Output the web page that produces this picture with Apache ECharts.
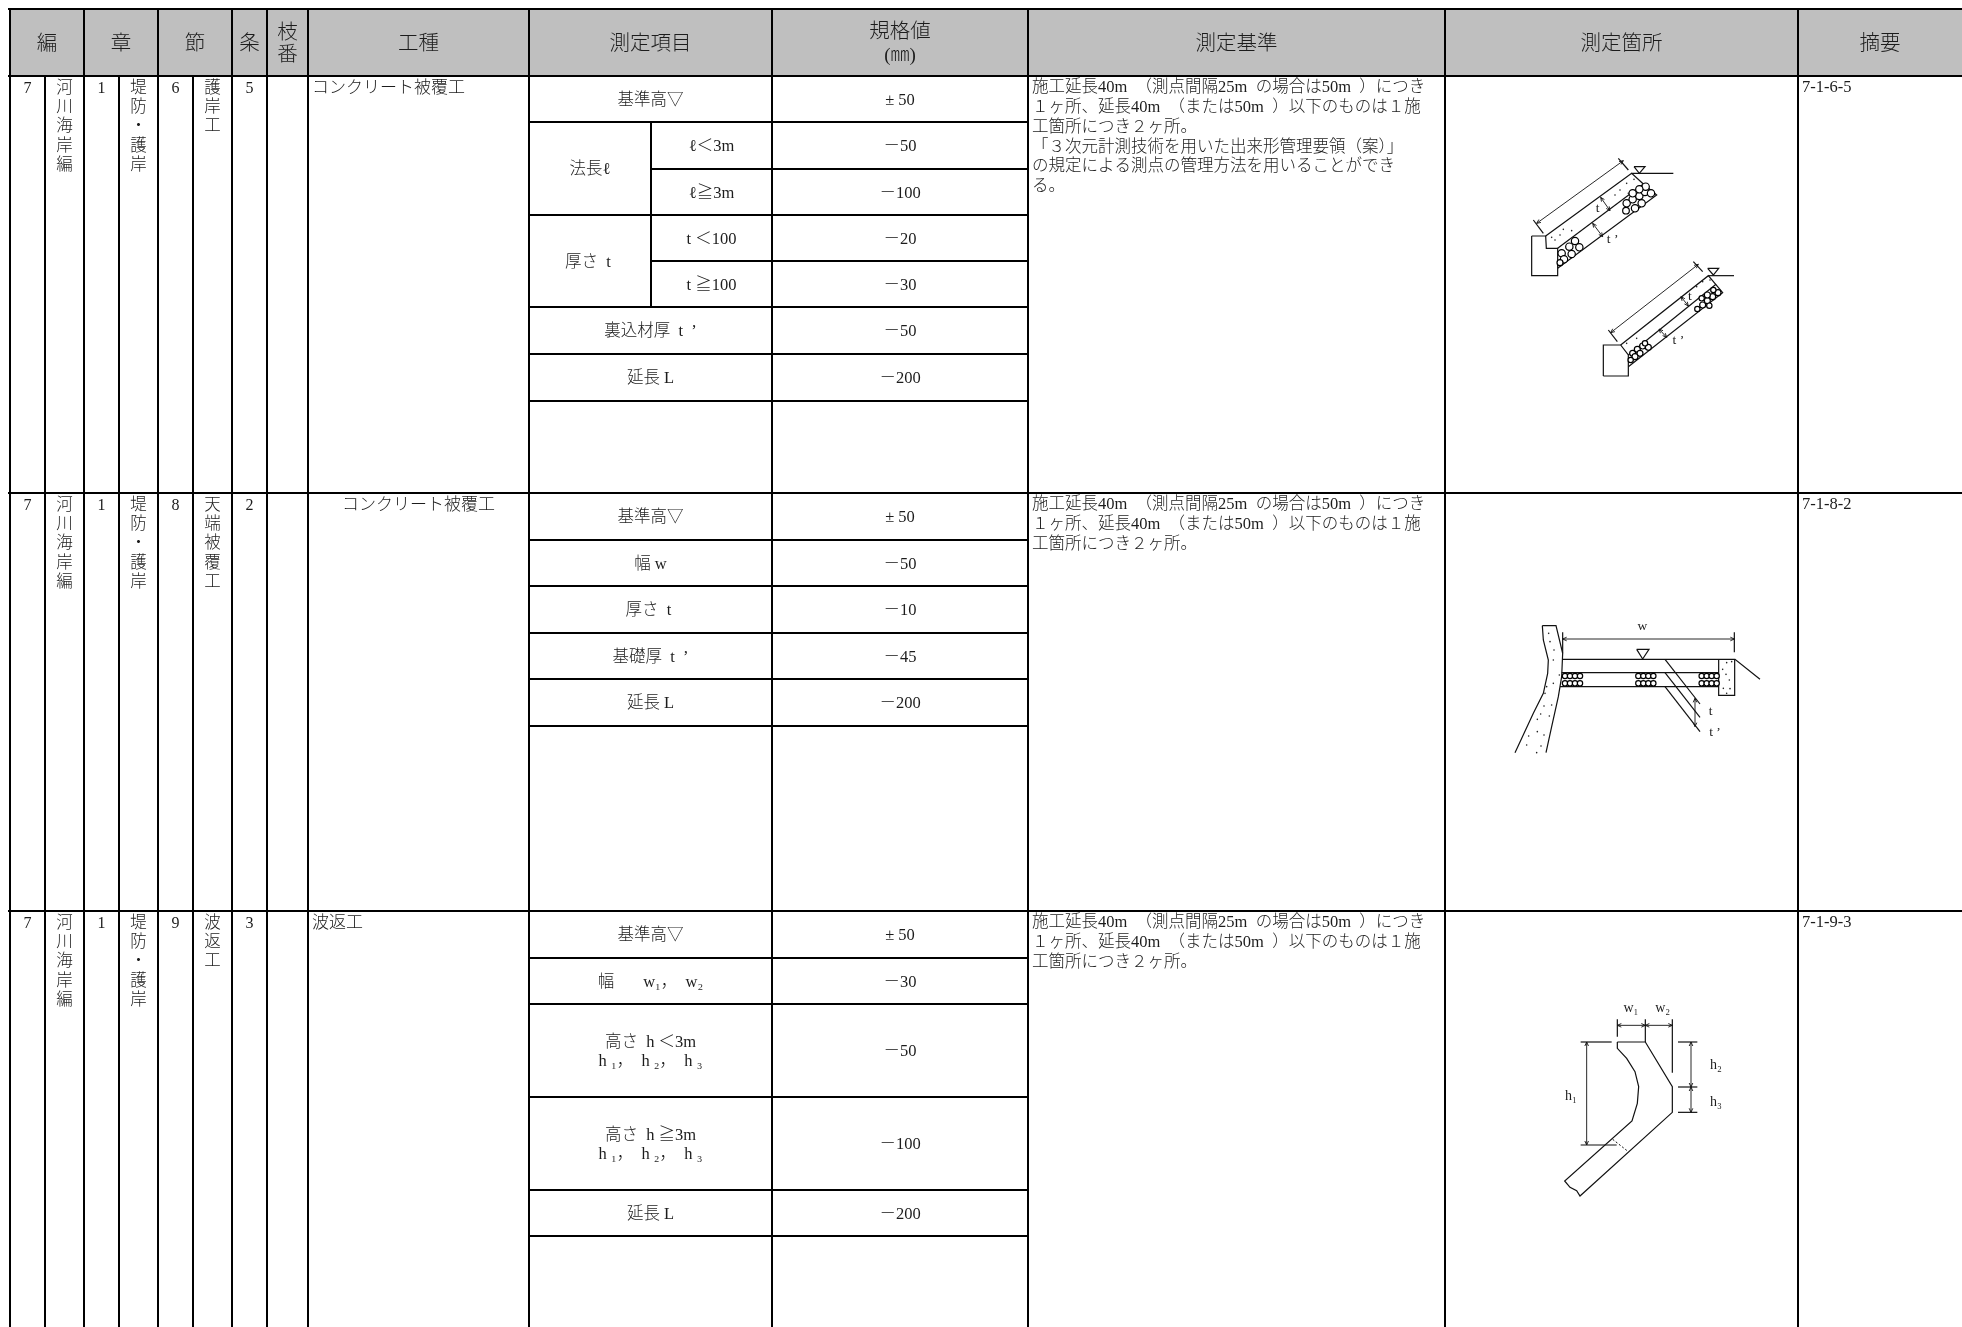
<!DOCTYPE html>
<html>
<head>
<meta charset="utf-8">
<title>出来形管理基準</title>
<style>
  html,body{margin:0;padding:0;background:#fff;}
  #main{width:1962px;height:1327px;}
</style>
<script src="https://cdn.jsdelivr.net/npm/echarts@6/dist/echarts.min.js"></script>
</head>
<body>
<div id="main"></div>
<script>
// table text
var headerLabels = ['編','章','節','条','枝\n番','工種','測定項目','規格値','測定基準','測定箇所','摘要'];
var henNo = ['7','7','7'];
var henName = ['河\n川\n海\n岸\n編','河\n川\n海\n岸\n編','河\n川\n海\n岸\n編'];
var shoNo = ['1','1','1'];
var shoName = ['堤\n防\n・\n護\n岸','堤\n防\n・\n護\n岸','堤\n防\n・\n護\n岸'];
var setsuNo = ['6','8','9'];
var setsuName = ['護\n岸\n工','天\n端\n被\n覆\n工','波\n返\n工'];
var joNo = ['5','2','3'];
var koshu = ['コンクリート被覆工','コンクリート被覆工','波返工'];
var itemsA = ['基準高▽','裏込材厚  t  ’','延長 L'];
var subGroupA = ['法長ℓ','厚さ  t '];
var subItemsA = ['ℓ＜3m','ℓ≧3m','t ＜100','t ≧100'];
var itemsB = ['基準高▽','幅 w','厚さ  t ','基礎厚  t  ’','延長 L'];
var itemsC = ['基準高▽','幅　   w₁，  w₂','高さ  h ＜3m\nh ₁，  h ₂，  h ₃','高さ  h ≧3m\nh ₁，  h ₂，  h ₃','延長 L'];
var valuesA = ['± 50','－50','－100','－20','－30','－50','－200'];
var valuesB = ['± 50','－50','－10','－45','－200'];
var valuesC = ['± 50','－30','－50','－100','－200'];
var criteriaA = '施工延長40m\u2002（測点間隔25m\u2002の場合は50m\u2002）につき\n１ヶ所、延長40m\u2002（または50m\u2002）以下のものは１施\n工箇所につき２ヶ所。\n「３次元計測技術を用いた出来形管理要領（案）」\nの規定による測点の管理方法を用いることができ\nる。';
var criteriaB = '施工延長40m\u2002（測点間隔25m\u2002の場合は50m\u2002）につき\n１ヶ所、延長40m\u2002（または50m\u2002）以下のものは１施\n工箇所につき２ヶ所。';
var remarks = ['7-1-6-5','7-1-8-2','7-1-9-3'];

// layout of the table, in page pixels
var colX = [10,45,84,119,158,193,232,267,308,529,772,1028,1445,1798];
var subColX = 651;
var headTop = 9, headBottom = 76;
var sectionTop = [76,493,911];
var rowsA = [122,215,307,354,401];
var subRowsA = [169,261];
var rowsB = [540,586,633,679,726];
var rowsC = [958,1004,1097,1190,1236];
var pageW = 1962, pageH = 1327;

var SERIF = '"Liberation Serif","Noto Sans CJK JP"';
var INK = '#1c1c1c';
var DY = 1.5; // text sits a little under the cell centre

// segments of the table rules [x0,y0,x1,y1]
var rules = [];
[headTop,headBottom,sectionTop[1],sectionTop[2]].forEach(function(y){ rules.push([colX[0]-1,y,pageW,y]); });
colX.forEach(function(x,i){
  var sub = (i==1||i==3||i==5);
  rules.push([x,sub?headBottom:headTop,x,pageH]);
});
rules.push([subColX,rowsA[0],subColX,rowsA[2]]);
rowsA.concat(rowsB,rowsC).forEach(function(y){ rules.push([colX[9],y,colX[11],y]); });
subRowsA.forEach(function(y){ rules.push([subColX,y,colX[11],y]); });

// texts [x,y,text,align,size,verticalAlign,lineHeight]
var texts = [];
function T(x,y,s,align,size,va,lh,family){ texts.push({x:x,y:y,s:s,align:align,size:size,va:va,lh:lh,family:family||SERIF}); }
function mid(a,b){ return (a+b)/2; }

var headCols = [[0,2],[2,4],[4,6],[6,7],[7,8],[8,9],[9,10],[10,11],[11,12],[12,13]];
headerLabels.forEach(function(h,i){
  var l = i<10 ? colX[headCols[i][0]] : colX[13];
  var r = i<10 ? colX[headCols[i][1]] : pageW;
  var cy = (i==7) ? 33 : 44.5;
  T(mid(l,r),cy,h,'center',20.5,'middle',22.5);
});
T(mid(colX[10],colX[11]),56,'(㎜)','center',19,'middle',18);

sectionTop.forEach(function(top,i){
  var y = top+2.5;
  T(mid(colX[0],colX[1]),y,henNo[i],'center',16,'top',20);
  T(mid(colX[1],colX[2]),y,henName[i],'center',16.5,'top',19.4);
  T(mid(colX[2],colX[3]),y,shoNo[i],'center',16,'top',20);
  T(mid(colX[3],colX[4]),y,shoName[i],'center',16.5,'top',19.4);
  T(mid(colX[4],colX[5]),y,setsuNo[i],'center',16,'top',20);
  T(mid(colX[5],colX[6]),y,setsuName[i],'center',16.5,'top',19.4);
  T(mid(colX[6],colX[7]),y,joNo[i],'center',16,'top',20);
  if(i==1){ T(mid(colX[8],colX[9]),y,koshu[i],'center',17,'top',19.4); }
  else { T(colX[8]+4,y,koshu[i],'left',17,'top',19.4); }
  T(colX[11]+4,y-0.5,i==0?criteriaA:criteriaB,'left',16.5,'top',19.8);
  T(colX[13]+4,y-0.5,remarks[i],'left',16.5,'top',19.4);
});

var cItem = mid(colX[9],colX[10]), cSub = mid(subColX,colX[10]), cGroup = mid(colX[9],subColX), cVal = mid(colX[10],colX[11]);
function cellMid(rows,top,i){ return mid(i==0?top:rows[i-1],rows[i])+DY; }
T(cItem,cellMid(rowsA,76,0),itemsA[0],'center',16.5,'middle',19);
T(cItem,cellMid(rowsA,76,3),itemsA[1],'center',16.5,'middle',19);
T(cItem,cellMid(rowsA,76,4),itemsA[2],'center',16.5,'middle',19);
T(cGroup,mid(rowsA[0],rowsA[1])+DY,subGroupA[0],'center',16.5,'middle',19);
T(cGroup,mid(rowsA[1],rowsA[2])+DY,subGroupA[1],'center',16.5,'middle',19);
var subBounds = [rowsA[0],subRowsA[0],rowsA[1],subRowsA[1],rowsA[2]];
subItemsA.forEach(function(s,i){ T(cSub,mid(subBounds[i],subBounds[i+1])+DY,s,'center',16.5,'middle',19); });
var allA = [76,rowsA[0],subRowsA[0],rowsA[1],subRowsA[1],rowsA[2],rowsA[3],rowsA[4]];
valuesA.forEach(function(v,i){ T(cVal,mid(allA[i],allA[i+1])+DY,v,'center',16.5,'middle',19); });
itemsB.forEach(function(s,i){ T(cItem,cellMid(rowsB,493,i),s,'center',16.5,'middle',19); });
valuesB.forEach(function(v,i){ T(cVal,cellMid(rowsB,493,i),v,'center',16.5,'middle',19); });
itemsC.forEach(function(s,i){ T(cItem,cellMid(rowsC,911,i),s,'center',16.5,'middle',19); });
valuesC.forEach(function(v,i){ T(cVal,cellMid(rowsC,911,i),v,'center',16.5,'middle',19); });

// sketch in 測定箇所, stored in 3x crop units with an origin
var sketchOrigins = {a:[1480,140],b:[1480,590],c:[1520,980]};
var sketchLinesA = [
  [[155,288],[155,407],[233,407],[233,325],[199,325],[197,288],[155,288]],
  [[197,288],[455,100],[490,132]],
  [[233,325],[490,132]],
  [[233,385],[530,165],[490,132]],
  [[455,100],[580,100]],
  [[462,80],[495,80],[478,100],[462,80]],
  [[160,240],[190,280]],[[415,55],[445,90]],
  [[370,708],[370,615],[422,615],[445,645],[445,708],[370,708]],
  [[422,615],[685,407],[728,458],[445,680]],
  [[445,645],[708,433]],
  [[685,407],[762,407]],
  [[683,385],[716,385],[700,405],[683,385]],
  [[385,570],[412,605]],[[640,365],[668,395]]
];
var sketchArrowsA = [
  [[170,250],[430,62]],[[362,172],[390,212]],[[338,250],[368,290]],
  [[392,578],[655,373]],[[603,470],[625,498]],[[537,567],[560,592]]
];
var sketchStonesA = [
  [245,340,11],[268,320,11],[285,303,11],[298,322,11],[275,342,11],[252,358,11],[240,368,9],
  [440,190,11],[458,178,11],[478,168,11],[495,156,11],[513,160,11],[497,140,11],[478,148,11],[458,160,11],[438,212,10],[465,205,11],[485,190,11],
  [458,640,9],[472,628,9],[488,618,9],[505,622,9],[495,610,8],[480,640,9],[465,650,9],[452,660,8],
  [652,507,8],[668,495,9],[682,482,9],[698,470,9],[714,458,9],[700,450,8],[682,465,9],[665,475,8],[688,497,8]
];
var sketchDotsA = [[225,300],[250,268],[275,272],[240,285],[215,292],[420,150],[440,130],[462,118],[445,160],[405,165],[470,595],[440,610],[668,425],[650,440],[690,420]];
var sketchLinesB = [
  [[187,107],[228,107],[248,190],[245,260],[235,320],[215,410],[198,488]],
  [[187,107],[190,150],[205,210],[203,250],[190,310],[160,370],[105,488]],
  [[248,208],[765,208],[840,268]],
  [[245,248],[716,248]],[[240,290],[716,290]],
  [[716,208],[716,316],[764,316],[764,208]],
  [[470,178],[507,178],[488,207],[470,178]],
  [[555,208],[660,342]],[[555,248],[660,382]],[[555,290],[660,425]],
  [[248,127],[248,190]],[[763,127],[763,187]]
];
var sketchArrowsB = [[[248,147],[763,147]],[[645,325],[645,410]]];
var sketchStonesB = [];
[[255,270,285,300],[475,490,505,520],[665,680,695,710]].forEach(function(g){
  g.forEach(function(x){ sketchStonesB.push([x,258,8]); sketchStonesB.push([x,280,8]); });
});
var sketchDotsB = [[206,130],[210,155],[222,180],[220,210],[238,255],[200,290],[220,280],[195,310],[215,345],[192,348],[182,372],[208,378],[172,388],[192,435],[146,438],[172,425],[140,465],[183,468],[170,488],[740,218],[755,215],[728,238],[738,253],[748,270],[730,295],[750,296],[740,310]];
var sketchLinesC = [
  [[292,186],[376,186],[457,320],[457,397],[180,648],[170,632],[150,622],[134,603],[336,423],[352,370],[356,320],[345,275],[320,235],[292,205],[292,186]],
  [[292,118],[292,170]],[[376,118],[376,186]],[[457,118],[457,278]],
  [[182,186],[275,186]],[[182,495],[290,495]],
  [[474,186],[532,186]],[[474,321],[532,321]],[[474,397],[532,397]]
];
var sketchArrowsC = [[[292,136],[376,136]],[[376,136],[457,136]],[[200,186],[200,495]],[[513,186],[513,321]],[[513,321],[513,397]]];
var sketchDashC = [[278,478],[325,515]];
var sketchLabels = [
  ['a',353,205,'t'],['a',398,297,'t ’'],['a',630,470,'t'],['a',595,600,'t ’'],
  ['b',487,110,'w'],['b',692,365,'t'],['b',705,428,'t ’'],
  ['c',333,85,'w₁'],['c',428,85,'w₂'],['c',153,350,'h₁'],['c',588,255,'h₂'],['c',588,368,'h₃']
];

function toPage(o,p){ return [o[0]+p[0]/3,o[1]+p[1]/3]; }
var sketchPaths = [], sketchCircles = [], sketchPts = [];
function addPaths(o,list,w,dash){ list.forEach(function(l){ sketchPaths.push({pts:l.map(function(p){return toPage(o,p);}),w:w,dash:dash}); }); }
function addArrows(o,list){
  list.forEach(function(a){
    var p0 = toPage(o,a[0]), p1 = toPage(o,a[1]);
    var d = [p1[0]-p0[0],p1[1]-p0[1]], len = Math.sqrt(d[0]*d[0]+d[1]*d[1]);
    var u = [d[0]/len,d[1]/len], n = [-u[1],u[0]], h = 4, s = 1.8;
    sketchPaths.push({pts:[p0,p1],w:0.9});
    sketchPaths.push({pts:[[p0[0]+u[0]*h+n[0]*s,p0[1]+u[1]*h+n[1]*s],p0,[p0[0]+u[0]*h-n[0]*s,p0[1]+u[1]*h-n[1]*s]],w:0.9});
    sketchPaths.push({pts:[[p1[0]-u[0]*h+n[0]*s,p1[1]-u[1]*h+n[1]*s],p1,[p1[0]-u[0]*h-n[0]*s,p1[1]-u[1]*h-n[1]*s]],w:0.9});
  });
}
function addStones(o,list){ list.forEach(function(c){ var p = toPage(o,c); sketchCircles.push([p[0],p[1],c[2]/3]); }); }
function addDots(o,list){ list.forEach(function(c){ sketchPts.push(toPage(o,c)); }); }
addPaths(sketchOrigins.a,sketchLinesA,1.2);
addArrows(sketchOrigins.a,sketchArrowsA);
addStones(sketchOrigins.a,sketchStonesA);
addDots(sketchOrigins.a,sketchDotsA);
addPaths(sketchOrigins.b,sketchLinesB,1.2);
addArrows(sketchOrigins.b,sketchArrowsB);
addStones(sketchOrigins.b,sketchStonesB);
addDots(sketchOrigins.b,sketchDotsB);
addPaths(sketchOrigins.c,sketchLinesC,1.2);
addArrows(sketchOrigins.c,sketchArrowsC);
addPaths(sketchOrigins.c,[sketchDashC],1,[2,2]);
sketchLabels.forEach(function(l){
  var p = toPage(sketchOrigins[l[0]],[l[1],l[2]]);
  T(p[0],p[1],l[3],'center',l[0]=='c'?14:13.5,'middle',14);
});

var myChart = echarts.init(document.getElementById('main'));
var option = {
  animation: false,
  backgroundColor: '#fff',
  grid: {left:0,right:0,top:0,bottom:0},
  xAxis: {type:'value',min:0,max:pageW,show:false},
  yAxis: {type:'value',min:0,max:pageH,inverse:true,show:false},
  series: [
    {
      // header band
      type:'custom',silent:true,z:1,
      data:[[colX[0],headTop,pageW,headBottom]],
      renderItem:function(params,api){
        var a = api.coord([api.value(0),api.value(1)]), b = api.coord([api.value(2),api.value(3)]);
        return {type:'rect',shape:{x:a[0],y:a[1],width:b[0]-a[0],height:b[1]-a[1]},style:{fill:'#bfbfbf'}};
      }
    },
    {
      // table rules
      type:'custom',silent:true,z:5,
      data:rules,
      renderItem:function(params,api){
        var a = api.coord([api.value(0),api.value(1)]), b = api.coord([api.value(2),api.value(3)]);
        return {type:'line',shape:{x1:a[0],y1:a[1],x2:b[0],y2:b[1]},style:{stroke:'#000',lineWidth:2,lineCap:'square'}};
      }
    },
    {
      // sketch outlines
      type:'custom',silent:true,z:3,
      data:sketchPaths.map(function(p){return [p.pts[0][0],p.pts[0][1]];}),
      renderItem:function(params,api){
        var p = sketchPaths[params.dataIndex];
        return {type:'polyline',shape:{points:p.pts.map(function(q){return api.coord(q);})},
          style:{fill:null,stroke:'#111',lineWidth:p.w,lineDash:p.dash||null}};
      }
    },
    {
      // gravel
      type:'custom',silent:true,z:4,
      data:sketchCircles,
      renderItem:function(params,api){
        var c = api.coord([api.value(0),api.value(1)]);
        return {type:'circle',shape:{cx:c[0],cy:c[1],r:api.value(2)},style:{fill:'#fff',stroke:'#000',lineWidth:1.2}};
      }
    },
    {
      // concrete dots
      type:'custom',silent:true,z:4,
      data:sketchPts,
      renderItem:function(params,api){
        var c = api.coord([api.value(0),api.value(1)]);
        return {type:'circle',shape:{cx:c[0],cy:c[1],r:0.8},style:{fill:'#222'}};
      }
    },
    {
      // all text
      type:'custom',silent:true,z:6,
      data:texts.map(function(t){return [t.x,t.y];}),
      renderItem:function(params,api){
        var t = texts[params.dataIndex];
        var c = api.coord([t.x,t.y]);
        return {type:'text',x:c[0],y:c[1],style:{text:t.s,fill:INK,textAlign:t.align,textVerticalAlign:t.va,
          font:'300 '+t.size+'px '+t.family,lineHeight:t.lh}};
      }
    }
  ]
};
myChart.setOption(option);
</script>
</body>
</html>
